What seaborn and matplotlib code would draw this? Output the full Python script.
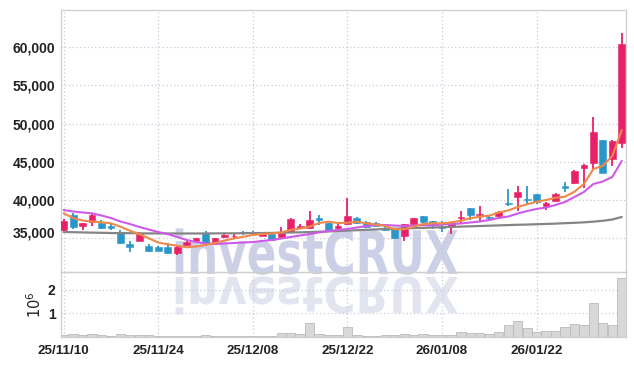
import numpy as np
import pandas as pd
import matplotlib
matplotlib.use("Agg")
import matplotlib.pyplot as plt
import seaborn as sns
from matplotlib.textpath import TextPath
from matplotlib.patches import PathPatch
from matplotlib.font_manager import FontProperties
from matplotlib.transforms import Affine2D, ScaledTranslation
from matplotlib.ticker import FuncFormatter

# ---------------- data ----------------
tick_labels = ["25/11/10", "25/11/24", "25/12/08", "25/12/22", "26/01/08", "26/01/22"]
tick_pos = [0, 10, 20, 30, 40, 50]

opens = [36090, 38090, 36600, 37170, 37040, 36650, 35760, 34250, 34690, 34030,
         33900, 33900, 33110, 34080, 34640, 35650, 34400, 35130, 35250, 35860,
         35860, 35340, 35520, 35130, 35780, 36310, 36310, 37610, 36960, 36310,
         36830, 37700, 37150, 37040, 36310, 36180, 35300, 36830, 37910, 37260,
         36610, 36650, 37700, 38920, 38100, 37760, 37960, 39650, 40440, 40140,
         40800, 39270, 39920, 41840, 42280, 44160, 44810, 47870, 45340, 47510]
closes = [37300, 36440, 36950, 38000, 36310, 36390, 34340, 33900, 35560, 33340,
          33380, 33030, 33900, 34550, 35000, 34340, 35000, 35420, 35350, 35650,
          35700, 35650, 34780, 35650, 37520, 36610, 37390, 37390, 35990, 36610,
          37910, 36960, 36450, 36650, 36090, 35000, 36830, 37610, 37090, 36830,
          36390, 37040, 37800, 38050, 38180, 37650, 38440, 39520, 41060, 40010,
          39790, 39580, 40800, 41540, 43850, 44590, 48870, 43590, 47780, 60430]
highs = [37480, 38270, 37050, 38350, 37390, 37000, 36150, 34640, 35860, 34300,
         34000, 34350, 34000, 34650, 35100, 35900, 35050, 35500, 35700, 35900,
         35900, 35750, 35600, 36480, 37600, 36850, 38610, 38000, 37050, 36850,
         40230, 37800, 37200, 37150, 36450, 36250, 36900, 37700, 37950, 37300,
         37200, 37100, 38600, 38950, 39250, 38000, 38550, 41410, 41840, 41840,
         40850, 39700, 40900, 42400, 43900, 44700, 50920, 47900, 47850, 61830]
lows = [35860, 36180, 36090, 36610, 36200, 36090, 34300, 33250, 34600, 33200,
        33300, 33000, 32800, 34000, 34600, 34300, 34350, 35050, 34900, 35400,
        35600, 35300, 34700, 35050, 35700, 36200, 36250, 36780, 35900, 36200,
        36750, 36900, 36400, 36550, 35950, 34950, 34690, 36750, 37000, 36200,
        35800, 35560, 36950, 37400, 37250, 37500, 37850, 39220, 38610, 39490,
        39450, 38750, 39850, 41100, 42150, 41620, 44030, 43500, 44460, 46860]

ma_short = [38270, 37660, 37330, 37200, 37090, 36960, 36520, 35990, 35560, 35000,
            34450, 34210, 34030, 33820, 33930, 34120, 34380, 34710, 34970, 35210,
            35430, 35560, 35630, 35760, 36090, 36280, 36520, 37000, 37170, 37000,
            37040, 37170, 36960, 36810, 36610, 36180, 36180, 36520, 36870, 36960,
            36960, 37090, 37300, 37620, 37830, 37960, 38380, 38640, 39100, 39450,
            39790, 40010, 40310, 40440, 41100, 42110, 44070, 44500, 45770, 49180]
ma_mid = [38700, 38510, 38380, 38270, 37980, 37660, 37200, 36870, 36480, 36150,
          35820, 35560, 35170, 34780, 34510, 34320, 34250, 34320, 34380, 34450,
          34510, 34650, 34780, 34970, 35170, 35370, 35560, 35760, 35950, 36090,
          36220, 36410, 36610, 36740, 36740, 36670, 36610, 36670, 36740, 36670,
          36810, 36870, 36940, 37070, 37200, 37400, 37660, 37850, 38250, 38570,
          38840, 39030, 39360, 39750, 40410, 41060, 42110, 42440, 43030, 45130]
ma_long = [35820, 35800, 35770, 35740, 35720, 35690, 35680, 35670, 35650, 35640,
           35640, 35630, 35630, 35630, 35630, 35640, 35640, 35650, 35650, 35670,
           35680, 35690, 35700, 35730, 35760, 35780, 35820, 35860, 35900, 35950,
           36010, 36060, 36110, 36160, 36220, 36260, 36290, 36330, 36370, 36410,
           36450, 36490, 36530, 36570, 36610, 36650, 36690, 36730, 36770, 36800,
           36840, 36880, 36920, 36980, 37030, 37090, 37180, 37290, 37460, 37790]

volume_m = [0.10, 0.13, 0.10, 0.13, 0.09, 0.05, 0.13, 0.09, 0.09, 0.09,
            0.06, 0.05, 0.05, 0.04, 0.05, 0.09, 0.05, 0.05, 0.04, 0.05,
            0.05, 0.05, 0.06, 0.19, 0.19, 0.11, 0.60, 0.13, 0.10, 0.10,
            0.43, 0.10, 0.06, 0.06, 0.09, 0.09, 0.13, 0.09, 0.13, 0.09,
            0.09, 0.10, 0.22, 0.15, 0.18, 0.13, 0.22, 0.50, 0.67, 0.39,
            0.22, 0.25, 0.25, 0.43, 0.56, 0.49, 1.44, 0.60, 0.49, 2.50]

price_ticks = [35000, 40000, 45000, 50000, 55000, 60000]
vol_ticks = [1, 2]

# ---------------- styling ----------------
RED = "#e8206a"
BLUE = "#2c96c9"
ORANGE = "#f0884a"
VIOLET = "#cf5ae8"
GREY = "#858585"
GRID = "#c9c9dc"
SPINE = "#cfcfcf"
TXT = "#222222"

sns.set_theme(style="white")
plt.rcParams["font.family"] = ["Liberation Sans", "DejaVu Sans"]

W, H = 634, 366
fig = plt.figure(figsize=(W / 100, H / 100), dpi=100)
fig.patch.set_facecolor("white")

left, right = 61, 626
main_top, main_bot, vol_bot = 10, 272.3, 337
ax = fig.add_axes([left / W, 1 - main_bot / H, (right - left) / W, (main_bot - main_top) / H])
axv = fig.add_axes([left / W, 1 - vol_bot / H, (right - left) / W, (vol_bot - main_bot) / H], sharex=ax)
for a in (ax, axv):
    a.set_facecolor("none")

# ---------------- watermark ----------------
fp = FontProperties(family="DejaVu Sans", weight="bold")
tp = TextPath((0, 0), "investCRUX", size=60, prop=fp)
x0, base = 172, 274
wm = PathPatch(tp, transform=Affine2D().scale(0.73, 1.0).translate(x0, H - base),
               facecolor="#ccd0e6", edgecolor="none", zorder=-2)
wm_ref = PathPatch(tp, transform=Affine2D().scale(0.73, -0.82).translate(x0, H - base - 3),
                   facecolor="#e2e4f0", edgecolor="none", zorder=-2)
fig.add_artist(wm)
fig.add_artist(wm_ref)

# ---------------- candles ----------------
idx = np.arange(len(opens))
o = np.array(opens, dtype=float)
c = np.array(closes, dtype=float)
cols = np.where(c >= o, RED, BLUE)
ax.vlines(idx, lows, highs, colors=cols, lw=1.3, zorder=3)
ax.bar(idx, np.maximum(np.abs(c - o), 60), bottom=np.minimum(o, c), width=0.72,
       color=cols, edgecolor=cols, linewidth=0.4, zorder=3)

df = pd.DataFrame({"idx": idx, "short": ma_short, "mid": ma_mid, "long": ma_long})
sns.lineplot(data=df, x="idx", y="long", color=GREY, lw=1.6, ax=ax, zorder=4)
sns.lineplot(data=df, x="idx", y="mid", color=VIOLET, lw=1.5, ax=ax, zorder=4)
sns.lineplot(data=df, x="idx", y="short", color=ORANGE, lw=1.5, ax=ax, zorder=4)

ax.set_xlim(-0.28, 59.45)
ax.set_ylim(30550, 64880)
ax.set_yticks(price_ticks)
ax.yaxis.set_major_formatter(FuncFormatter(lambda v, p: f"{v:,.0f}"))
ax.set_xlabel("")
ax.set_ylabel("")

# ---------------- volume ----------------
vdf = pd.DataFrame({"idx": idx, "vol": volume_m})
sns.barplot(data=vdf, x="idx", y="vol", native_scale=True, width=0.98, color="#d8d8d8",
            saturation=1, edgecolor="#b9b9b9", linewidth=0.6, ax=axv, zorder=2)
axv.set_ylim(0, 2.75)
axv.set_yticks(vol_ticks)
axv.set_ylabel(r"$10^6$", fontsize=10.5, color=TXT, labelpad=3)
axv.set_xlabel("")
axv.set_xticks(tick_pos)
axv.set_xticklabels(tick_labels)
axv.set_xlim(-0.28, 59.45)

for a in (ax, axv):
    a.grid(True, ls=(0, (1, 2)), color=GRID, lw=0.9)
    a.set_axisbelow(True)
    for s in a.spines.values():
        s.set_color(SPINE)
        s.set_linewidth(0.9)
    a.tick_params(length=0, labelsize=10, colors=TXT, pad=4)
for lab in ax.get_yticklabels() + axv.get_yticklabels() + axv.get_xticklabels():
    lab.set_fontweight("bold")
for lab in axv.get_xticklabels():
    lab.set_fontsize(9.6)
ax.tick_params(axis="x", labelbottom=False)
axv.tick_params(axis="x", pad=6)

# the lowest price label sits slightly raised in the reference
fig.canvas.draw()
low_lab = ax.get_yticklabels()[0]
low_lab.set_transform(low_lab.get_transform() + ScaledTranslation(0, 6 / 100, fig.dpi_scale_trans))

fig.savefig("out.png", dpi=100, facecolor="white")
